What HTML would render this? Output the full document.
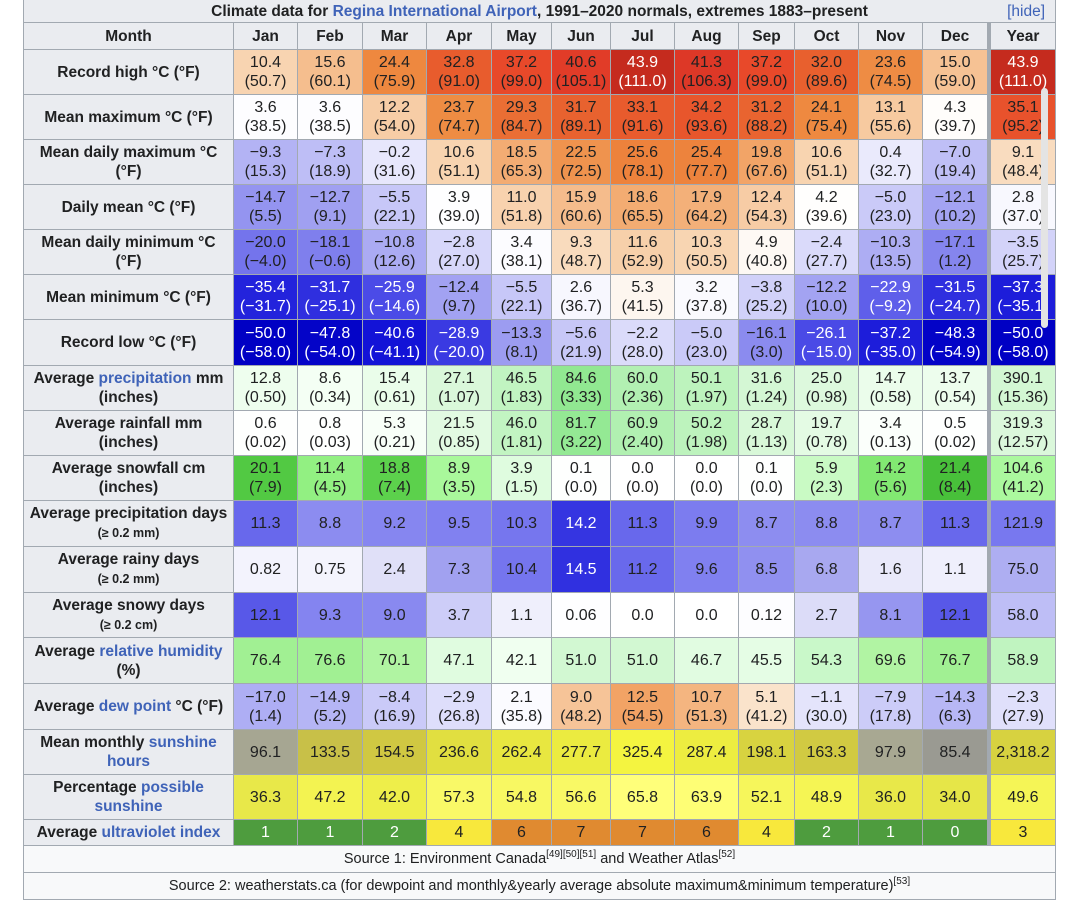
<!DOCTYPE html>
<html><head><meta charset="utf-8"><style>
body{margin:0;background:#fff;}
#wrap{position:relative;width:1080px;height:906px;overflow:hidden;background:#fff;font-family:"Liberation Sans",sans-serif;color:#202122;}
.c{position:absolute;box-sizing:border-box;border-right:1px solid #a2a9b1;border-bottom:1px solid #a2a9b1;display:flex;align-items:center;justify-content:center;text-align:center;font-size:16px;line-height:19px;}
.c > span{display:block;}
.lab{background:#eaecf0;font-weight:bold;font-size:15.5px;line-height:19px;}
.lab small{font-size:12.5px;}
a{color:#3f63b8;text-decoration:none;}
.src{background:#f8f9fa;font-size:14.5px;}
sup{font-size:10px;line-height:0;vertical-align:6px;}
</style></head><body>
<div id="wrap">
<div class="c lab" style="left:23px;top:0;width:1033px;height:23px;border-left:1px solid #a2a9b1;font-size:15.5px;"><span>Climate data for <a>Regina International Airport</a>, 1991–2020 normals, extremes 1883–present</span>
<span style="position:absolute;right:10px;top:2px;font-weight:normal;color:#3f63b8;">[hide]</span></div>
</div>
<script>
const months=["Month","Jan","Feb","Mar","Apr","May","Jun","Jul","Aug","Sep","Oct","Nov","Dec","Year"];
const colX=[23,234,298,363,427,492,552,611,675,739,795,859,923,988,1056];
const rowY=[23,50,95,140,185,230,275,320,366,411,456,501,547,593,638,684,730,775,820,846];
const labels=["Record high °C (°F)","Mean maximum °C (°F)","Mean daily maximum °C<br>(°F)","Daily mean °C (°F)","Mean daily minimum °C<br>(°F)","Mean minimum °C (°F)","Record low °C (°F)",
"Average <a>precipitation</a> mm<br>(inches)","Average rainfall mm<br>(inches)","Average snowfall cm<br>(inches)","Average precipitation days<br><small>(≥ 0.2 mm)</small>","Average rainy days<br><small>(≥ 0.2 mm)</small>","Average snowy days<br><small>(≥ 0.2 cm)</small>",
"Average <a>relative humidity</a><br>(%)","Average <a>dew point</a> °C (°F)","Mean monthly <a>sunshine</a><br><a>hours</a>","Percentage <a>possible</a><br><a>sunshine</a>","Average <a>ultraviolet index</a>"];
const rowNames=["record-high","mean-maximum","mean-daily-maximum","daily-mean","mean-daily-minimum","mean-minimum","record-low","precipitation","rainfall","snowfall","precipitation-days","rainy-days","snowy-days","humidity","dew-point","sunshine-hours","possible-sunshine","uv-index"];
const recHighC=["10.4","15.6","24.4","32.8","37.2","40.6","43.9","41.3","37.2","32.0","23.6","15.0","43.9"];
const recHighF=["50.7","60.1","75.9","91.0","99.0","105.1","111.0","106.3","99.0","89.6","74.5","59.0","111.0"];
const meanMaxC=["3.6","3.6","12.2","23.7","29.3","31.7","33.1","34.2","31.2","24.1","13.1","4.3","35.1"];
const meanMaxF=["38.5","38.5","54.0","74.7","84.7","89.1","91.6","93.6","88.2","75.4","55.6","39.7","95.2"];
const dMaxC=["-9.3","-7.3","-0.2","10.6","18.5","22.5","25.6","25.4","19.8","10.6","0.4","-7.0","9.1"];
const dMaxF=["15.3","18.9","31.6","51.1","65.3","72.5","78.1","77.7","67.6","51.1","32.7","19.4","48.4"];
const dMeanC=["-14.7","-12.7","-5.5","3.9","11.0","15.9","18.6","17.9","12.4","4.2","-5.0","-12.1","2.8"];
const dMeanF=["5.5","9.1","22.1","39.0","51.8","60.6","65.5","64.2","54.3","39.6","23.0","10.2","37.0"];
const dMinC=["-20.0","-18.1","-10.8","-2.8","3.4","9.3","11.6","10.3","4.9","-2.4","-10.3","-17.1","-3.5"];
const dMinF=["-4.0","-0.6","12.6","27.0","38.1","48.7","52.9","50.5","40.8","27.7","13.5","1.2","25.7"];
const meanMinC=["-35.4","-31.7","-25.9","-12.4","-5.5","2.6","5.3","3.2","-3.8","-12.2","-22.9","-31.5","-37.3"];
const meanMinF=["-31.7","-25.1","-14.6","9.7","22.1","36.7","41.5","37.8","25.2","10.0","-9.2","-24.7","-35.1"];
const recLowC=["-50.0","-47.8","-40.6","-28.9","-13.3","-5.6","-2.2","-5.0","-16.1","-26.1","-37.2","-48.3","-50.0"];
const recLowF=["-58.0","-54.0","-41.1","-20.0","8.1","21.9","28.0","23.0","3.0","-15.0","-35.0","-54.9","-58.0"];
const precMm=["12.8","8.6","15.4","27.1","46.5","84.6","60.0","50.1","31.6","25.0","14.7","13.7","390.1"];
const precIn=["0.50","0.34","0.61","1.07","1.83","3.33","2.36","1.97","1.24","0.98","0.58","0.54","15.36"];
const rainMm=["0.6","0.8","5.3","21.5","46.0","81.7","60.9","50.2","28.7","19.7","3.4","0.5","319.3"];
const rainIn=["0.02","0.03","0.21","0.85","1.81","3.22","2.40","1.98","1.13","0.78","0.13","0.02","12.57"];
const snowCm=["20.1","11.4","18.8","8.9","3.9","0.1","0.0","0.0","0.1","5.9","14.2","21.4","104.6"];
const snowIn=["7.9","4.5","7.4","3.5","1.5","0.0","0.0","0.0","0.0","2.3","5.6","8.4","41.2"];
const precDays=["11.3","8.8","9.2","9.5","10.3","14.2","11.3","9.9","8.7","8.8","8.7","11.3","121.9"];
const rainDays=["0.82","0.75","2.4","7.3","10.4","14.5","11.2","9.6","8.5","6.8","1.6","1.1","75.0"];
const snowDays=["12.1","9.3","9.0","3.7","1.1","0.06","0.0","0.0","0.12","2.7","8.1","12.1","58.0"];
const humidity=["76.4","76.6","70.1","47.1","42.1","51.0","51.0","46.7","45.5","54.3","69.6","76.7","58.9"];
const dewC=["-17.0","-14.9","-8.4","-2.9","2.1","9.0","12.5","10.7","5.1","-1.1","-7.9","-14.3","-2.3"];
const dewF=["1.4","5.2","16.9","26.8","35.8","48.2","54.5","51.3","41.2","30.0","17.8","6.3","27.9"];
const sunHrs=["96.1","133.5","154.5","236.6","262.4","277.7","325.4","287.4","198.1","163.3","97.9","85.4","2,318.2"];
const sunPct=["36.3","47.2","42.0","57.3","54.8","56.6","65.8","63.9","52.1","48.9","36.0","34.0","49.6"];
const uvIdx=["1","1","2","4","6","7","7","6","4","2","1","0","3"];

function hex(h){return [parseInt(h.substr(1,2),16),parseInt(h.substr(3,2),16),parseInt(h.substr(5,2),16)];}
function scale(stops,v){
  if(v<=stops[0][0])return stops[0][1];
  for(let i=1;i<stops.length;i++){if(v<=stops[i][0]){const a=stops[i-1],b=stops[i];const t=(v-a[0])/(b[0]-a[0]);const A=hex(a[1]),B=hex(b[1]);return "rgb("+A.map((x,k)=>Math.round(x+(B[k]-x)*t)).join(",")+")";}}
  return stops[stops.length-1][1];
}
const tempS=[[-50,"#0000c4"],[-40,"#1414d8"],[-30,"#3434e0"],[-25,"#5050e8"],[-20,"#7474ec"],[-12,"#a4a4f2"],[-5,"#cacaf8"],[0,"#e8e8fc"],[4,"#ffffff"],[10,"#f8d6b4"],[15,"#f6c294"],[24,"#ee8a40"],[32,"#e8602e"],[37,"#e84a2a"],[41,"#e03a28"],[44,"#c42a1e"]];
const precS=[[0,"#ffffff"],[10,"#f2fff2"],[27,"#daf8da"],[46,"#c2f4c2"],[60,"#b2f0b2"],[85,"#90e890"]];
const snowS=[[0,"#ffffff"],[4,"#defcde"],[9,"#a8f89a"],[11.4,"#92f082"],[14.2,"#82e872"],[19,"#5ad04a"],[21.4,"#48c03a"]];
const humS=[[42,"#f0fff0"],[47,"#e0fce0"],[51,"#d2f8d2"],[54,"#caf8ca"],[59,"#c0f4c0"],[70,"#b0f4a2"],[77,"#a0f092"]];
const dayS=[[0,"#ffffff"],[1,"#f0f0fc"],[2.4,"#e0e0f8"],[4,"#c8c8f8"],[6.8,"#a8a8f0"],[8.5,"#9090f0"],[9.6,"#8080f0"],[11.3,"#6868ec"],[12.1,"#5858e8"],[14.5,"#3030e0"]];
const sunS=[[85,"#9a9a92"],[98,"#a8a892"],[133,"#c8c048"],[155,"#d0c842"],[200,"#d8d440"],[240,"#e2e040"],[280,"#ecec40"],[325,"#f4f440"]];
const pctS=[[34,"#e6e648"],[42,"#eeee4a"],[48,"#f4f452"],[55,"#f8f862"],[66,"#ffff7a"]];
function uvC(v){return v<=2?"#4e9c3e":(v<=5?"#f8e83c":"#e08a30");}
const num=s=>parseFloat(s.replace(",",""));
const neg=s=>s.replace("-","−");

const rows=[
 [recHighC,recHighF,v=>scale(tempS,v),v=>v>43||v<-21],
 [meanMaxC,meanMaxF,v=>scale(tempS,v),v=>v>43||v<-21],
 [dMaxC,dMaxF,v=>scale(tempS,v),v=>v<-21],
 [dMeanC,dMeanF,v=>scale(tempS,v),v=>v<-21],
 [dMinC,dMinF,v=>scale(tempS,v),v=>v<-21],
 [meanMinC,meanMinF,v=>scale(tempS,v),v=>v<-21],
 [recLowC,recLowF,v=>scale(tempS,v),v=>v<-21],
 [precMm,precIn,(v,y)=>scale(precS,y?v/12:v),()=>false],
 [rainMm,rainIn,(v,y)=>scale(precS,y?v/12:v),()=>false],
 [snowCm,snowIn,(v,y)=>scale(snowS,y?v/12:v),()=>false],
 [precDays,null,(v,y)=>scale(dayS,y?v/12:v),v=>v>=14&&v<20],
 [rainDays,null,(v,y)=>scale(dayS,y?v/12:v),v=>v>=14&&v<20],
 [snowDays,null,(v,y)=>scale(dayS,y?v/12:v),v=>false],
 [humidity,null,v=>scale(humS,v),()=>false],
 [dewC,dewF,v=>scale(tempS,v>0?v*1.6:v*0.6),()=>false],
 [sunHrs,null,(v,y)=>scale(sunS,y?v/12:v),()=>false],
 [sunPct,null,v=>scale(pctS,v),()=>false],
 [uvIdx,null,v=>uvC(v),v=>v<=2]
];
const wrap=document.getElementById('wrap');
function cell(x0,x1,y0,y1,cls){
  const d=document.createElement('div');d.className='c '+cls;
  d.style.left=x0+'px';d.style.top=y0+'px';d.style.width=(x1-x0)+'px';d.style.height=(y1-y0)+'px';
  wrap.appendChild(d);return d;
}
function cx(i){return [colX[i]+(i==13?3:0),colX[i+1]];}
for(let i=0;i<14;i++){
  const [a,b]=cx(i);
  const d=cell(a,b,rowY[0],rowY[1],'lab');
  if(i==0)d.style.borderLeft='1px solid #a2a9b1';
  d.innerHTML='<span>'+months[i]+'</span>';
  
  
}
rows.forEach((r,ri)=>{
  const y0=rowY[ri+1],y1=rowY[ri+2];
  const l=cell(23,234,y0,y1,'lab');l.style.borderLeft='1px solid #a2a9b1';l.innerHTML='<span>'+labels[ri]+'</span>';
  
  
  for(let i=0;i<13;i++){
    const [a,b]=cx(i+1);
    const v=num(r[0][i]);
    const d=cell(a,b,y0,y1,'');
    d.style.background=r[2](v,i==12);
    if(r[3](v))d.style.color='#fff';
    d.innerHTML='<span>'+neg(r[0][i])+(r[1]?'<br>('+neg(r[1][i])+')':'')+'</span>';
    
    
  }
  const g=cell(988,991,y0,y1,'');g.style.background='#a2a9b1';g.style.border='none';
  
  
});
const hg=cell(988,991,rowY[0],rowY[1],'');hg.style.background='#a2a9b1';hg.style.border='none';


const s1=cell(23,1056,846,873,'src');s1.style.borderLeft='1px solid #a2a9b1';
s1.innerHTML='<span>Source 1: Environment Canada<sup>[49][50][51]</sup> and Weather Atlas<sup>[52]</sup></span>';


const s2=cell(23,1056,873,900,'src');s2.style.borderLeft='1px solid #a2a9b1';
s2.innerHTML='<span>Source 2: weatherstats.ca (for dewpoint and monthly&amp;yearly average absolute maximum&amp;minimum temperature)<sup>[53]</sup></span>';


const sb=document.createElement('div');
sb.style.cssText='position:absolute;left:1041px;top:88px;width:7px;height:240px;background:#e4e4e4;border-radius:4px;';


wrap.appendChild(sb);
</script>
</body></html>
